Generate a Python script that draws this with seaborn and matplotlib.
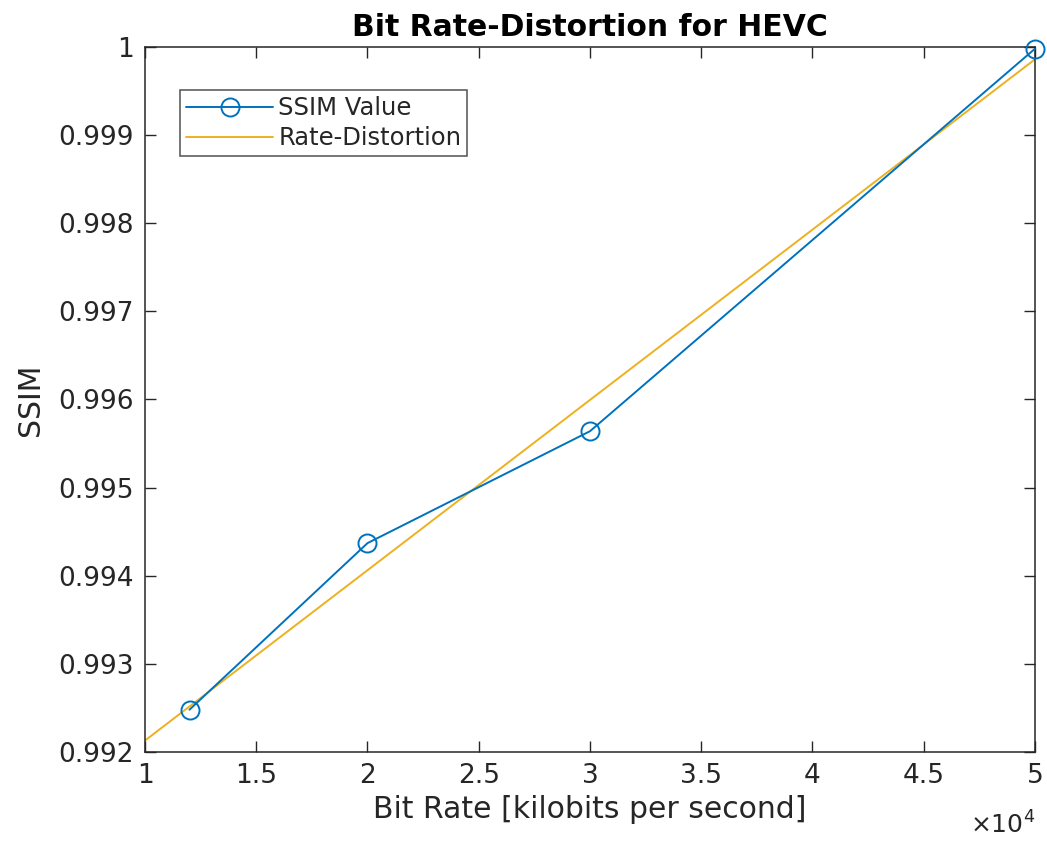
import numpy as np
import pandas as pd
import matplotlib
matplotlib.use("Agg")
import matplotlib.pyplot as plt
import seaborn as sns
from matplotlib.ticker import MultipleLocator, FuncFormatter

# Messwerte (Bitrate in kbit/s, SSIM)
bitrate = [12000, 20000, 30000, 50000]
ssim = [0.99248, 0.99437, 0.99564, 0.99998]

rd_bitrate = [10000, 50000]
rd_ssim = [0.99213, 0.99986]

df_ssim = pd.DataFrame({"bitrate": bitrate, "ssim": ssim})
df_rd = pd.DataFrame({"bitrate": rd_bitrate, "ssim": rd_ssim})

sns.set_style("ticks")
plt.rcParams["font.family"] = ["DejaVu Sans"]

textfarbe = "#262626"
blau = "#0072BD"
gelb = "#EDB120"

fig = plt.figure(figsize=(10.47, 8.42), dpi=100)
ax = fig.add_axes([0.1385, 0.1069, 0.85, 0.8373])

sns.lineplot(data=df_ssim, x="bitrate", y="ssim", ax=ax, color=blau,
             marker="o", markersize=13, markerfacecolor="none",
             markeredgecolor=blau, markeredgewidth=1.4, linewidth=1.4,
             label="SSIM Value", clip_on=False, zorder=3)
sns.lineplot(data=df_rd, x="bitrate", y="ssim", ax=ax, color=gelb,
             linewidth=1.4, label="Rate-Distortion", zorder=2)

ax.set_xlim(10000, 50000)
ax.set_ylim(0.992, 1.0)
ax.xaxis.set_major_locator(MultipleLocator(5000))
ax.yaxis.set_major_locator(MultipleLocator(0.001))
ax.xaxis.set_major_formatter(FuncFormatter(lambda v, p: f"{v / 1e4:g}"))
ax.yaxis.set_major_formatter(FuncFormatter(lambda v, p: f"{round(v, 4):g}"))

ax.tick_params(direction="in", length=8, width=1, top=True, right=True,
               labelsize=19, colors=textfarbe, pad=8)
for s in ax.spines.values():
    s.set_color(textfarbe)
    s.set_linewidth(1.1)

ax.set_xlabel("Bit Rate [kilobits per second]", fontsize=21.5, color=textfarbe, labelpad=4)
ax.set_ylabel("SSIM", fontsize=21.5, color=textfarbe, labelpad=10)
ax.set_title("Bit Rate-Distortion for HEVC", fontsize=21.5, fontweight="bold",
             color="black", pad=8)
ax.text(1.0, -0.116, r"$\times10^{4}$", transform=ax.transAxes, ha="right",
        va="baseline", fontsize=18, color=textfarbe)

leg = ax.legend(loc="upper left", bbox_to_anchor=(0.039, 0.939), borderaxespad=0,
                fancybox=False, edgecolor=textfarbe, fontsize=17.5,
                handlelength=3.6, borderpad=0.25, labelspacing=0.25, handletextpad=0.2)
leg.get_frame().set_linewidth(1.1)
for t in leg.get_texts():
    t.set_color(textfarbe)

fig.savefig("out.png", dpi=100)
